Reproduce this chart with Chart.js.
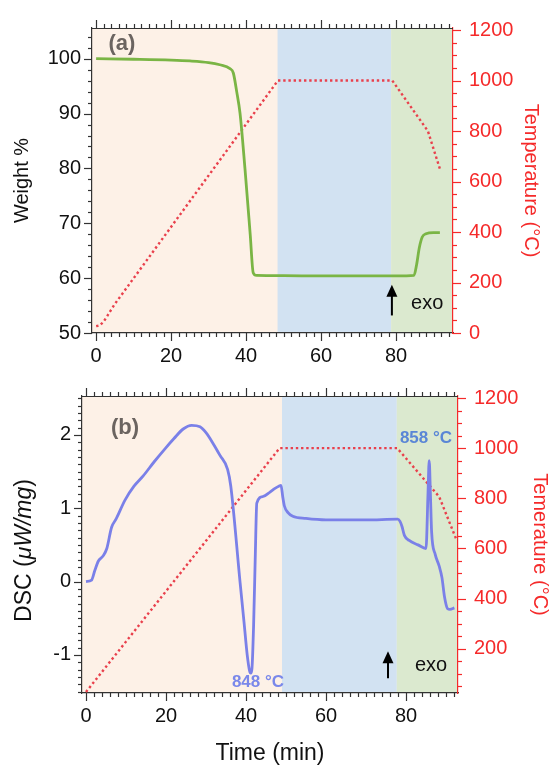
<!DOCTYPE html>
<html>
<head>
<meta charset="utf-8">
<script src="https://cdn.jsdelivr.net/npm/chart.js@4"></script>
<style>
  body { margin: 0; background: #fff; }
  #wrap { position: relative; width: 552px; height: 767px; }
  canvas { position: absolute; left: 0; }
  #chartA { top: 0; }
  #chartB { top: 368px; }
</style>
</head>
<body>
<div id="wrap">
  <canvas id="chartA" width="552" height="368"></canvas>
  <canvas id="chartB" width="552" height="399"></canvas>
</div>
<script>
// (a) TGA: weight % and furnace temperature vs time (min)
const timeW = [0, 10, 20, 25, 30, 33, 35.7, 36.6, 37.5, 38.4, 39.7, 41.1, 41.9, 42.8, 50, 60, 70, 80, 84.8, 85.5, 86.2, 87, 88, 90, 91.7];
const weight = [100, 99.9, 99.75, 99.6, 99.3, 98.9, 98.2, 97.4, 94, 90, 80, 68, 61, 60.5, 60.45, 60.4, 60.4, 60.4, 60.5, 62.5, 65.5, 67.5, 68.1, 68.3, 68.3];
const timeTA = [0, 1, 2, 3, 4, 5, 48.5, 79, 88.5, 91.7];
const tempA = [27, 30, 45, 68, 92, 115, 1000, 1000, 800, 650];

// (b) DSC signal and temperature vs time (min)
const timeDsc = [0, 1.4, 2.2, 3.1, 4.3, 5.2, 6.4, 7.5, 9.75, 12, 14.3, 17, 19.9, 22, 24.3, 26.4, 28.5, 30, 31.8, 33.5, 35.4, 36.2, 38.5, 39.5, 40.3, 40.9, 41.2, 41.5, 41.9, 42.3, 42.7, 44.3, 46, 47.25, 48.2, 48.75, 49.2, 49.6, 50.5, 51.7, 55, 60, 70, 77.9, 78.5, 79, 79.6, 80.8, 83, 85, 85.5, 85.8, 86.1, 86.4, 87.3, 88.3, 89, 89.6, 90.4, 91, 92.1];
const dsc = [0, 0.02, 0.15, 0.28, 0.35, 0.45, 0.74, 0.85, 1.11, 1.3, 1.44, 1.63, 1.82, 1.95, 2.08, 2.13, 2.11, 2.03, 1.88, 1.72, 1.53, 1.3, 0, -0.55, -1.0, -1.22, -1.25, -1.18, -0.6, 0.3, 1.07, 1.16, 1.22, 1.27, 1.3, 1.31, 1.15, 1.03, 0.94, 0.89, 0.86, 0.84, 0.84, 0.85, 0.82, 0.75, 0.63, 0.56, 0.5, 0.45, 1.2, 1.65, 1.2, 0.68, 0.37, 0.21, 0.05, -0.2, -0.37, -0.38, -0.36];
const timeTB = [0, 48.4, 77.8, 88.3, 92.5];
const tempB = [27, 1000, 1000, 806, 639];

const xTicks = [0, 20, 40, 60, 80];
const weightTicks = [50, 60, 70, 80, 90, 100];
const tempTicksA = [0, 200, 400, 600, 800, 1000, 1200];
const dscTicks = [-1, 0, 1, 2];
const tempTicksB = [200, 400, 600, 800, 1000, 1200];
const stagesA = [48.4, 78.7];   // heating | dwell | cooling
const stagesB = [49, 77.7];

const FONT = '"Liberation Sans", Arial, sans-serif';
const RED = '#f52a2a';
const BANDS = ['#fdf1e7', '#d2e2f2', '#dbe9cf'];

function pts(xs, ys) {
  return xs.map((x, i) => ({ x: x, y: ys[i] }));
}

function useTicks(list) {
  return function (scale) {
    scale.ticks = list.map(v => ({ value: v }));
  };
}

function fixSize(w, h) {
  return function (scale) {
    if (w) scale.width = w;
    if (h) scale.height = h;
  };
}

// small + large tick marks along one edge of the plot
function tickRow(ctx, scale, step, every, edge, dir) {
  const first = Math.ceil(scale.min / step - 1e-6);
  const last = Math.floor(scale.max / step + 1e-6);
  for (let i = first; i <= last; i++) {
    const len = i % every === 0 ? 8 : 4;
    const p = Math.round(scale.getPixelForValue(i * step)) + 0.5;
    ctx.beginPath();
    if (scale.isHorizontal()) {
      ctx.moveTo(p, edge);
      ctx.lineTo(p, edge + dir * len);
    } else {
      ctx.moveTo(edge, p);
      ctx.lineTo(edge + dir * len, p);
    }
    ctx.stroke();
  }
}

function arrowUp(ctx, x, yTip, yTail) {
  ctx.strokeStyle = '#000';
  ctx.fillStyle = '#000';
  ctx.lineWidth = 2;
  ctx.beginPath();
  ctx.moveTo(x, yTail);
  ctx.lineTo(x, yTip + 8);
  ctx.stroke();
  ctx.beginPath();
  ctx.moveTo(x, yTip);
  ctx.lineTo(x - 5.5, yTip + 12);
  ctx.lineTo(x + 5.5, yTip + 12);
  ctx.closePath();
  ctx.fill();
}

const frame = {
  id: 'frame',
  beforeDraw(chart, args, opts) {
    const { ctx, chartArea: a, scales } = chart;
    const b0 = scales.x.getPixelForValue(opts.stages[0]);
    const b1 = scales.x.getPixelForValue(opts.stages[1]);
    ctx.save();
    ctx.fillStyle = BANDS[0];
    ctx.fillRect(a.left, a.top, a.width, a.height);
    ctx.fillStyle = BANDS[1];
    ctx.fillRect(b0, a.top, b1 - b0, a.height);
    ctx.fillStyle = BANDS[2];
    ctx.fillRect(b1, a.top, a.right - b1, a.height);
    ctx.restore();
  },
  afterDraw(chart, args, opts) {
    const { ctx, chartArea: a, scales } = chart;
    const x = scales.x, y = scales.y, y1 = scales.y1;
    ctx.save();
    ctx.lineWidth = 1.2;
    ctx.strokeStyle = '#333';
    ctx.beginPath();
    ctx.moveTo(a.left, a.top + 0.5);
    ctx.lineTo(a.right, a.top + 0.5);
    ctx.stroke();
    tickRow(ctx, x, 2, 10, a.bottom, 1);
    tickRow(ctx, x, 2, 10, a.top, -1);
    tickRow(ctx, y, opts.yStep, opts.yEvery, a.left, -1);
    ctx.strokeStyle = RED;
    tickRow(ctx, y1, 50, 4, a.right, 1);

    ctx.textAlign = 'center';
    ctx.textBaseline = 'middle';
    opts.notes.forEach(n => {
      ctx.font = n.font;
      ctx.fillStyle = n.color;
      ctx.fillText(n.text, x.getPixelForValue(n.x), y.getPixelForValue(n.y));
    });
    const ar = opts.arrow;
    arrowUp(ctx, x.getPixelForValue(ar.x), y.getPixelForValue(ar.tip), y.getPixelForValue(ar.tail));

    if (opts.dscTitle) {
      // DSC (µW/mg) with the unit in italics
      const parts = [['DSC (', '23px ' + FONT], ['\u03bcW/mg', 'italic 23px ' + FONT], [')', '23px ' + FONT]];
      let total = 0;
      parts.forEach(p => { ctx.font = p[1]; total += ctx.measureText(p[0]).width; });
      ctx.translate(25, (a.top + a.bottom) / 2 + 6);
      ctx.rotate(-Math.PI / 2);
      ctx.fillStyle = '#111';
      ctx.textAlign = 'left';
      let pos = -total / 2;
      parts.forEach(p => {
        ctx.font = p[1];
        ctx.fillText(p[0], pos, 0);
        pos += ctx.measureText(p[0]).width;
      });
    }
    ctx.restore();
  }
};

function axisX(min, max, height, title) {
  return {
    type: 'linear',
    min: min,
    max: max,
    afterBuildTicks: useTicks(xTicks),
    afterFit: fixSize(0, height),
    grid: { drawOnChartArea: false, drawTicks: false },
    border: { color: '#333', width: 1.2 },
    ticks: { color: '#111', padding: 11, font: { family: FONT, size: 20 } },
    title: title
  };
}

function axisLeft(min, max, list, width, title) {
  return {
    position: 'left',
    min: min,
    max: max,
    afterBuildTicks: useTicks(list),
    afterFit: fixSize(width, 0),
    grid: { drawOnChartArea: false, drawTicks: false },
    border: { color: '#333', width: 1.2 },
    ticks: { color: '#111', padding: 11, font: { family: FONT, size: 20 } },
    title: title
  };
}

function axisRight(min, max, list, width, title) {
  return {
    position: 'right',
    min: min,
    max: max,
    afterBuildTicks: useTicks(list),
    afterFit: fixSize(width, 0),
    grid: { drawOnChartArea: false, drawTicks: false },
    border: { color: RED, width: 1.2 },
    ticks: { color: RED, padding: 16, font: { family: FONT, size: 20 }, callback: v => String(v) },
    title: title
  };
}

function tempLine(data) {
  return {
    data: data,
    yAxisID: 'y1',
    borderColor: '#e9404c',
    borderWidth: 2.4,
    borderDash: [2.4, 2.8],
    pointRadius: 0,
    tension: 0
  };
}

const common = {
  responsive: false,
  animation: false,
  plugins: { legend: { display: false }, tooltip: { enabled: false } }
};

new Chart(document.getElementById('chartA'), {
  type: 'line',
  data: {
    datasets: [
      {
        data: pts(timeW, weight),
        yAxisID: 'y',
        borderColor: '#7ab545',
        borderWidth: 2.8,
        pointRadius: 0,
        cubicInterpolationMode: 'monotone'
      },
      tempLine(pts(timeTA, tempA))
    ]
  },
  options: Object.assign({}, common, {
    layout: { padding: { top: 23 } },
    scales: {
      x: axisX(-1.1, 95.2, 35, { display: false }),
      y: axisLeft(50, 105.6, weightTicks, 92,
        { display: true, text: 'Weight %', color: '#111', padding: { top: 10, bottom: 0 }, font: { family: FONT, size: 20 } }),
      y1: axisRight(0, 1208, tempTicksA, 99,
        { display: true, text: 'Temperature (\u00b0C)', color: RED, padding: { top: 9, bottom: 0 }, font: { family: FONT, size: 20 } })
    },
    plugins: Object.assign({}, common.plugins, {
      frame: {
        stages: stagesA,
        yStep: 2,
        yEvery: 5,
        notes: [
          { text: '(a)', x: 6.9, y: 102.7, font: 'bold 22px ' + FONT, color: '#6b6460' },
          { text: 'exo', x: 88.3, y: 55.4, font: '20px ' + FONT, color: '#111' }
        ],
        arrow: { x: 78.9, tip: 58.8, tail: 53.2 }
      }
    })
  }),
  plugins: [frame]
});

new Chart(document.getElementById('chartB'), {
  type: 'line',
  data: {
    datasets: [
      {
        data: pts(timeDsc, dsc),
        yAxisID: 'y',
        borderColor: '#7a80e8',
        borderWidth: 2.8,
        pointRadius: 0,
        cubicInterpolationMode: 'monotone'
      },
      tempLine(pts(timeTB, tempB))
    ]
  },
  options: Object.assign({}, common, {
    layout: { padding: { top: 18 } },
    scales: {
      x: axisX(-1, 93, 74,
        { display: true, text: 'Time (min)', color: '#111', padding: { top: 0, bottom: 0 }, font: { family: FONT, size: 23 } }),
      y: axisLeft(-1.52, 2.53, dscTicks, 82, { display: false }),
      y1: axisRight(23, 1208, tempTicksB, 94,
        { display: true, text: 'Temerature (\u00b0C)', color: RED, padding: { top: 0, bottom: 0 }, font: { family: FONT, size: 20 } })
    },
    plugins: Object.assign({}, common.plugins, {
      frame: {
        stages: stagesB,
        yStep: 0.1,
        yEvery: 10,
        dscTitle: true,
        notes: [
          { text: '(b)', x: 9.75, y: 2.1, font: 'bold 22px ' + FONT, color: '#6b6460' },
          { text: '848 \u00b0C', x: 43, y: -1.38, font: 'bold 17px ' + FONT, color: '#7a88ea' },
          { text: '858 \u00b0C', x: 85, y: 1.95, font: 'bold 17px ' + FONT, color: '#5a86d6' },
          { text: 'exo', x: 86.25, y: -1.14, font: '20px ' + FONT, color: '#111' }
        ],
        arrow: { x: 75.5, tip: -0.95, tail: -1.32 }
      }
    })
  }),
  plugins: [frame]
});
</script>
</body>
</html>
